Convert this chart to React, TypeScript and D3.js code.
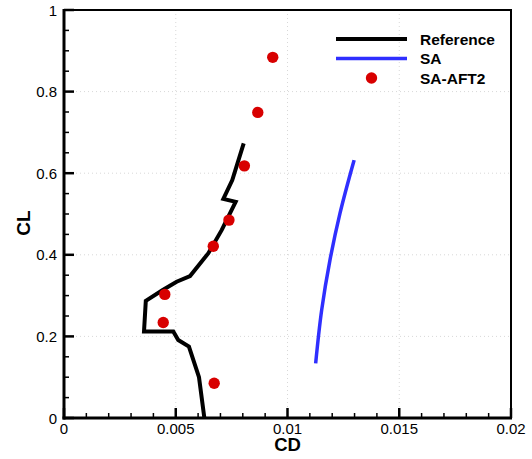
import React from "react";
import * as d3 from "d3";

const refCD = [0.00628, 0.00604, 0.00559, 0.00511, 0.00489, 0.00358, 0.00366, 0.00440, 0.00504, 0.00564, 0.00646, 0.00706, 0.00768, 0.00713, 0.00753, 0.00804];
const refCL = [0.0, 0.100, 0.175, 0.191, 0.212, 0.212, 0.287, 0.313, 0.334, 0.348, 0.404, 0.461, 0.530, 0.537, 0.583, 0.673];

const saCD = [0.01126, 0.01153, 0.01190, 0.01235, 0.01298];
const saCL = [0.134, 0.265, 0.387, 0.502, 0.632];

const aftCD = [0.00672, 0.00444, 0.00451, 0.00668, 0.00738, 0.00807, 0.00867, 0.00934];
const aftCL = [0.085, 0.234, 0.303, 0.421, 0.485, 0.618, 0.749, 0.884];

const xTicks = [0, 0.005, 0.01, 0.015, 0.02];
const xTickLabels = ["0", "0.005", "0.01", "0.015", "0.02"];
const yTicks = [0, 0.2, 0.4, 0.6, 0.8, 1];
const yTickLabels = ["0", "0.2", "0.4", "0.6", "0.8", "1"];

const legendLabels = ["Reference", "SA", "SA-AFT2"];

export default function App() {
  const W = 532, H = 459;
  const L = 64, R = 511, T = 10, B = 418;
  const x = d3.scaleLinear().domain([0, 0.02]).range([L, R]);
  const y = d3.scaleLinear().domain([0, 1]).range([B, T]);
  const line = d3.line<[number, number]>().x(d => x(d[0])).y(d => y(d[1]));
  const refPts = refCD.map((c, i) => [c, refCL[i]] as [number, number]);
  const saPts = saCD.map((c, i) => [c, saCL[i]] as [number, number]);
  const saLine = d3.line<[number, number]>().x(d => x(d[0])).y(d => y(d[1])).curve(d3.curveMonotoneY);
  const xMinor = d3.range(0, 0.02001, 0.001).filter(v => Math.abs(v / 0.005 - Math.round(v / 0.005)) > 1e-6);
  const yMinor = d3.range(0, 1.0001, 0.05).filter(v => Math.abs(v / 0.2 - Math.round(v / 0.2)) > 1e-6);
  const font = "'Liberation Sans', Arial, Helvetica, sans-serif";
  const red = "#d80000";
  const blue = "#2f2fff";
  return (
    <svg width={W} height={H} style={{ position: "absolute", left: 0, top: 0, background: "#fff" }} fontFamily={font}>
      <rect x={0} y={0} width={W} height={H} fill="#fff" />
      {/* grid */}
      {xTicks.slice(1, -1).map((t, i) => (
        <line key={"gx" + i} x1={x(t)} x2={x(t)} y1={T} y2={B} stroke="#d8d8d8" strokeWidth={1} strokeDasharray="1,3" />
      ))}
      {yTicks.slice(1, -1).map((t, i) => (
        <line key={"gy" + i} x1={L} x2={R} y1={y(t)} y2={y(t)} stroke="#d8d8d8" strokeWidth={1} strokeDasharray="1,3" />
      ))}
      {/* data */}
      <path d={line(refPts) || ""} fill="none" stroke="#000" strokeWidth={4} strokeLinejoin="miter" />
      <path d={saLine(saPts) || ""} fill="none" stroke={blue} strokeWidth={3.5} />
      {aftCD.map((c, i) => (
        <circle key={"p" + i} cx={x(c)} cy={y(aftCL[i])} r={5.7} fill={red} />
      ))}
      {/* ticks */}
      {xTicks.map((t, i) => (
        <line key={"xt" + i} x1={x(t)} x2={x(t)} y1={B} y2={B - 10} stroke="#000" strokeWidth={2.5} />
      ))}
      {xMinor.map((t, i) => (
        <line key={"xm" + i} x1={x(t)} x2={x(t)} y1={B} y2={B - 5} stroke="#000" strokeWidth={1.5} />
      ))}
      {yTicks.map((t, i) => (
        <line key={"yt" + i} x1={L} x2={L + 10} y1={y(t)} y2={y(t)} stroke="#000" strokeWidth={2.5} />
      ))}
      {yMinor.map((t, i) => (
        <line key={"ym" + i} x1={L} x2={L + 5} y1={y(t)} y2={y(t)} stroke="#000" strokeWidth={1.5} />
      ))}
      {/* frame */}
      <rect x={L} y={T} width={R - L} height={B - T} fill="none" stroke="#000" strokeWidth={2} />
      <line x1={L} x2={L} y1={T - 1} y2={B + 1.5} stroke="#000" strokeWidth={3} />
      <line x1={L - 1.5} x2={R + 1} y1={B} y2={B} stroke="#000" strokeWidth={3} />
      {/* tick labels */}
      {xTicks.map((t, i) => (
        <text key={"xl" + i} x={x(t)} y={B + 16} textAnchor="middle" fontSize={15} fill="#000">{xTickLabels[i]}</text>
      ))}
      {yTicks.map((t, i) => (
        <text key={"yl" + i} x={L - 7} y={y(t) + 5.5} textAnchor="end" fontSize={15} fill="#000">{yTickLabels[i]}</text>
      ))}
      {/* axis titles */}
      <text x={(L + R) / 2} y={451} textAnchor="middle" fontSize={18.5} fontWeight="bold">CD</text>
      <text transform={`translate(29.5,${223}) rotate(-90)`} textAnchor="middle" fontSize={19} fontWeight="bold">CL</text>
      {/* legend */}
      <line x1={336} x2={407} y1={39} y2={39} stroke="#000" strokeWidth={4} />
      <line x1={336} x2={407} y1={58.5} y2={58.5} stroke={blue} strokeWidth={3.5} />
      <circle cx={371.5} cy={78} r={5.7} fill={red} />
      {legendLabels.map((l, i) => (
        <text key={"lg" + i} x={420} y={44.5 + i * 19.5} fontSize={15.5} fontWeight="bold">{l}</text>
      ))}
    </svg>
  );
}
